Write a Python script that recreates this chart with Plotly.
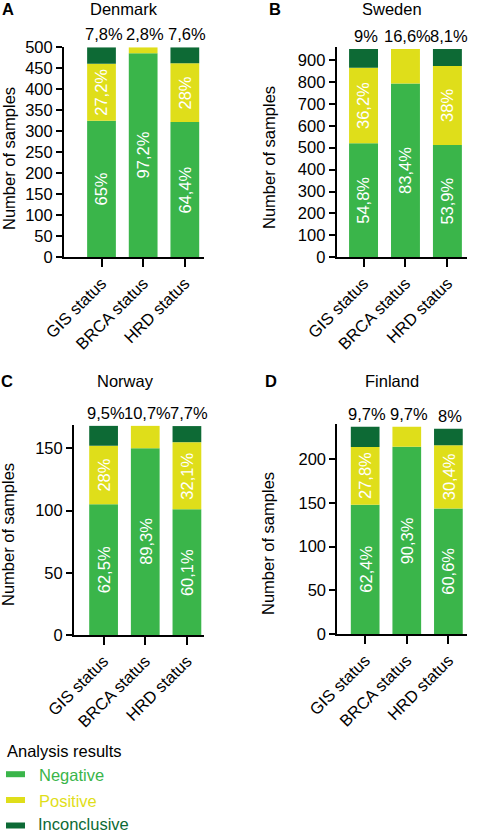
import plotly.graph_objects as go

# ---------------- data ----------------
countries = ["Denmark", "Sweden", "Norway", "Finland"]
panel_letters = ["A", "B", "C", "D"]
categories = ["GIS status", "BRCA status", "HRD status"]
result_names = ["Negative", "Positive", "Inconclusive"]

totals = [500, 950, 168, 237]  # number of samples per country (approx.)

negative_pct = [
    [65.0, 97.2, 64.4],   # Denmark
    [54.8, 83.4, 53.9],   # Sweden
    [62.5, 89.3, 60.1],   # Norway
    [62.4, 90.3, 60.6],   # Finland
]
positive_pct = [
    [27.2, 2.8, 28.0],
    [36.2, 16.6, 38.0],
    [28.0, 10.7, 32.1],
    [27.8, 9.7, 30.4],
]
inconclusive_pct = [
    [7.8, 0.0, 7.6],
    [9.0, 0.0, 8.1],
    [9.5, 0.0, 7.7],
    [9.7, 0.0, 8.0],
]

y_tick_step = [50, 100, 50, 50]
y_axis_max = [500, 958, 168.7, 240]

# ---------------- styles / geometry ----------------
W, H = 479, 834
FONT = "Liberation Sans, Arial, Helvetica, sans-serif"
FS = 16.5
colors = {"Negative": "#3AB54A", "Positive": "#DFDE1A", "Inconclusive": "#0D6A35"}

# pixel geometry of each panel's plotting area: (left, right, top, bottom, xrange)
panels = [
    (64.0, 204.0, 47.3, 257.3, [-0.90, 2.46]),
    (336.7, 466.7, 47.3, 257.3, [-0.64, 2.46]),
    (74.0, 204.0, 425.0, 635.0, [-0.71, 2.41]),
    (337.3, 466.7, 424.0, 634.3, [-0.67, 2.44]),
]
titles_pos = [  # (letter x, title x, y) in px
    (7.5, 124.0, 9.0),
    (275.0, 391.7, 9.0),
    (7.0, 125.0, 380.5),
    (271.0, 391.7, 380.5),
]
ytitle_pos = [(9.0, 159.0), (269.0, 158.0), (8.0, 535.0), (268.0, 544.0)]


def px(x):
    return x / W


def py(y):
    return 1 - y / H


def fmt(p):
    s = f"{p:.1f}"
    if s.endswith(".0"):
        s = s[:-2]
    return s.replace(".", ",") + "%"


fig = go.Figure()
annotations = []
shapes = []
BAR_W = 0.69

for k, country in enumerate(countries):
    n = totals[k]
    xs = [0, 1, 2]
    neg = [p / 100 * n for p in negative_pct[k]]
    pos = [p / 100 * n for p in positive_pct[k]]
    inc = [p / 100 * n for p in inconclusive_pct[k]]
    sfx = "" if k == 0 else str(k + 1)
    xa, ya = "x" + sfx, "y" + sfx

    base = [0, 0, 0]
    for name, vals in zip(result_names, [neg, pos, inc]):
        fig.add_trace(go.Bar(
            x=xs, y=vals, base=base, width=BAR_W, xaxis=xa, yaxis=ya,
            marker=dict(color=colors[name], line=dict(width=0)),
            name=name, showlegend=False, hoverinfo="skip",
        ))
        base = [b + v for b, v in zip(base, vals)]

    for i in range(3):
        top_total = neg[i] + pos[i] + inc[i]
        # inner labels
        annotations.append(dict(
            x=i, y=neg[i] / 2, xref=xa, yref=ya, text=fmt(negative_pct[k][i]),
            textangle=-90, showarrow=False,
            font=dict(family=FONT, size=FS, color="white")))
        if inc[i] > 0:
            annotations.append(dict(
                x=i, y=neg[i] + pos[i] / 2, xref=xa, yref=ya, text=fmt(positive_pct[k][i]),
                textangle=-90, showarrow=False,
                font=dict(family=FONT, size=FS, color="white")))
            top_label = fmt(inconclusive_pct[k][i])
        else:
            top_label = fmt(positive_pct[k][i])
        annotations.append(dict(
            x=i, y=top_total, xref=xa, yref=ya, text=top_label, showarrow=False,
            yanchor="bottom", yshift=2, xshift=2,
            font=dict(family=FONT, size=FS, color="black")))

    left, right, top, bottom, xr = panels[k]
    axis_common = dict(showgrid=False, zeroline=False, showline=True, linecolor="black",
                       linewidth=2, ticks="outside", tickwidth=2, tickcolor="black",
                       automargin=False,
                       tickfont=dict(family=FONT, size=FS, color="black"))
    fig.update_layout(**{
        ("xaxis" + sfx): dict(
            domain=[px(left), px(right)], anchor=ya, range=xr,
            tickmode="array", tickvals=xs, ticktext=categories, tickangle=-45,
            ticklen=8, **axis_common),
        ("yaxis" + sfx): dict(
            domain=[py(bottom), py(top)], anchor=xa, range=[0, y_axis_max[k]],
            dtick=y_tick_step[k], tick0=0, ticklen=6, **axis_common),
    })

    lx, tx, ty = titles_pos[k]
    annotations.append(dict(x=px(lx), y=py(ty), xref="paper", yref="paper",
                            text="<b>" + panel_letters[k] + "</b>", showarrow=False,
                            xanchor="center", yanchor="middle",
                            font=dict(family=FONT, size=FS, color="black")))
    annotations.append(dict(x=px(tx), y=py(ty), xref="paper", yref="paper",
                            text=country, showarrow=False,
                            xanchor="center", yanchor="middle",
                            font=dict(family=FONT, size=FS, color="black")))
    yx, yy = ytitle_pos[k]
    annotations.append(dict(x=px(yx), y=py(yy), xref="paper", yref="paper",
                            text="Number of samples", textangle=-90, showarrow=False,
                            xanchor="center", yanchor="middle",
                            font=dict(family=FONT, size=FS, color="black")))

# ---------------- legend (drawn manually) ----------------
annotations.append(dict(x=px(5), y=py(751), xref="paper", yref="paper",
                        text="Analysis results", showarrow=False,
                        xanchor="left", yanchor="middle",
                        font=dict(family=FONT, size=FS, color="black")))
legend_y = [774.2, 800.0, 825.5]
for j, (name, ly) in enumerate(zip(result_names, legend_y)):
    shapes.append(dict(type="rect", xref="paper", yref="paper",
                       x0=px(6), x1=px(25), y0=py(ly + 3.0), y1=py(ly - 3.0),
                       fillcolor=colors[name], line=dict(width=0)))
    if j < 2:
        annotations.append(dict(x=px(37), y=py(ly + 1), xref="paper", yref="paper",
                                text=name, showarrow=False, xanchor="left", yanchor="middle",
                                font=dict(family=FONT, size=FS, color=colors[name])))
    else:
        annotations.append(dict(x=px(37), y=0, xref="paper", yref="paper",
                                text=name, showarrow=False, xanchor="left", yanchor="bottom",
                                borderpad=0,
                                font=dict(family=FONT, size=FS, color=colors[name])))

fig.update_layout(
    width=W, height=H,
    margin=dict(l=0, r=0, t=0, b=0, pad=0, autoexpand=False),
    paper_bgcolor="white", plot_bgcolor="white",
    barmode="overlay", showlegend=False,
    annotations=annotations, shapes=shapes,
    font=dict(family=FONT, size=FS, color="black"),
)

fig.write_html(
    "out.html",
    config={"displayModeBar": False},
    post_script="document.body.style.margin='0';document.body.style.overflow='hidden';",
)
